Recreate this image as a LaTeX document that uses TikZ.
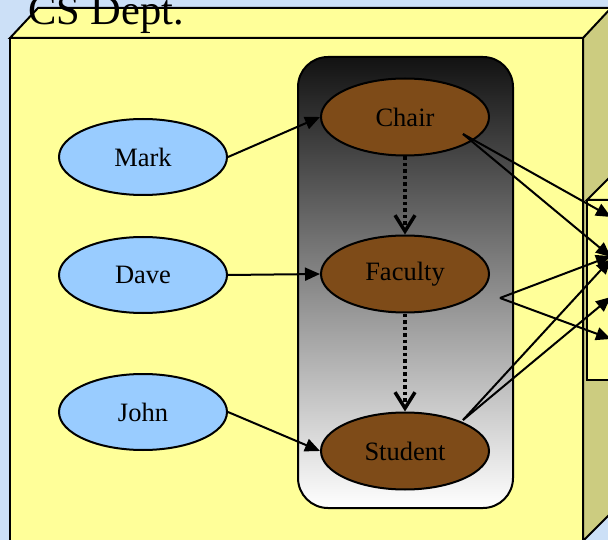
\documentclass[tikz,border=0pt]{standalone}
\usepackage{fontspec}
\setmainfont{Liberation Serif}
\usetikzlibrary{shapes.geometric,arrows.meta}

\definecolor{bgblue}{RGB}{204,224,247}
\definecolor{boxyellow}{RGB}{255,255,153}
\definecolor{boxside}{RGB}{204,204,128}
\definecolor{rolebrown}{RGB}{126,75,24}
\definecolor{personblue}{RGB}{153,204,255}

\tikzset{
  edge/.style={draw=black, line width=2pt, line join=miter},
  person/.style={ellipse, draw=black, line width=2pt, fill=personblue,
    minimum width=168pt, minimum height=76pt, inner sep=0pt, font=\fontsize{26.5}{30}\selectfont},
  role/.style={ellipse, draw=black, line width=2pt, fill=rolebrown,
    minimum width=168pt, minimum height=77pt, inner sep=0pt, font=\fontsize{26.5}{30}\selectfont},
  assign/.style={line width=2pt, -{Triangle[length=15pt,width=13pt]}},
  inherit/.style={line width=3.5pt, dash pattern=on 3.5pt off 3pt,
    -{Straight Barb[length=16pt,width=20pt,line width=3.5pt]}},
}

\begin{document}
\begin{tikzpicture}[x=1pt,y=-1pt]
\useasboundingbox (0,0) rectangle (608,540);
\clip (0,0) rectangle (608,540);
\fill[bgblue] (0,0) rectangle (608,540);

% department block: front, top and right faces
\filldraw[edge, fill=boxyellow] (10,38) -- (38,8) -- (640,8) -- (583,38) -- cycle;
\filldraw[edge, fill=boxside] (583,38) -- (611,8) -- (611,513) -- (583,541) -- cycle;
\filldraw[edge, fill=boxyellow] (10,38) rectangle (583,541);

% block on the right-hand side
\filldraw[edge, fill=boxyellow] (587,200) -- (609,178) -- (640,178) -- (640,200) -- cycle;
\filldraw[edge, fill=boxyellow] (587,200) rectangle (640,380);

\node[anchor=base west, inner sep=0pt, font=\fontsize{42.5}{46}\selectfont] (dept) at (28,25) {CS Dept.};

% role hierarchy container
\shade[top color={rgb,255:red,18;green,18;blue,18}, bottom color=white, rounded corners=30pt]
  (298,57) rectangle (513,508);
\draw[edge, rounded corners=30pt] (298,57) rectangle (513,508);

% roles
\node[role] (chair) at (405,117) {Chair};
\node[role] (faculty) at (405,274) {Faculty};
\node[role] (student) at (405,451) {Student};

% users
\node[person] (mark) at (143,157) {Mark};
\node[person] (dave) at (143,275) {Dave};
\node[person] (john) at (143,412) {John};

% user-role assignments
\draw[assign] (mark.east) -- (chair.west);
\draw[assign] (dave.east) -- (faculty.west);
\draw[assign] (john.east) -- (student.west);

% role inheritance
\draw[inherit] (chair.south) -- (faculty.north);
\draw[inherit] (faculty.south) -- (student.north);

% permission links
\coordinate (chairOut) at (463,134);
\coordinate (facultyOut) at (500,298);
\coordinate (studentOut) at (463,420);
\coordinate (p1) at (611,217);
\coordinate (p2) at (611,257);
\coordinate (p3) at (611,256);
\coordinate (p4) at (611,259);
\coordinate (p5) at (611,297);
\coordinate (p6) at (611,339);

\draw[assign] (chairOut) -- (p1);
\draw[assign] (chairOut) -- (p2);
\draw[assign] (facultyOut) -- (p3);
\draw[assign] (facultyOut) -- (p6);
\draw[assign] (studentOut) -- (p4);
\draw[assign] (studentOut) -- (p5);
\end{tikzpicture}
\end{document}
